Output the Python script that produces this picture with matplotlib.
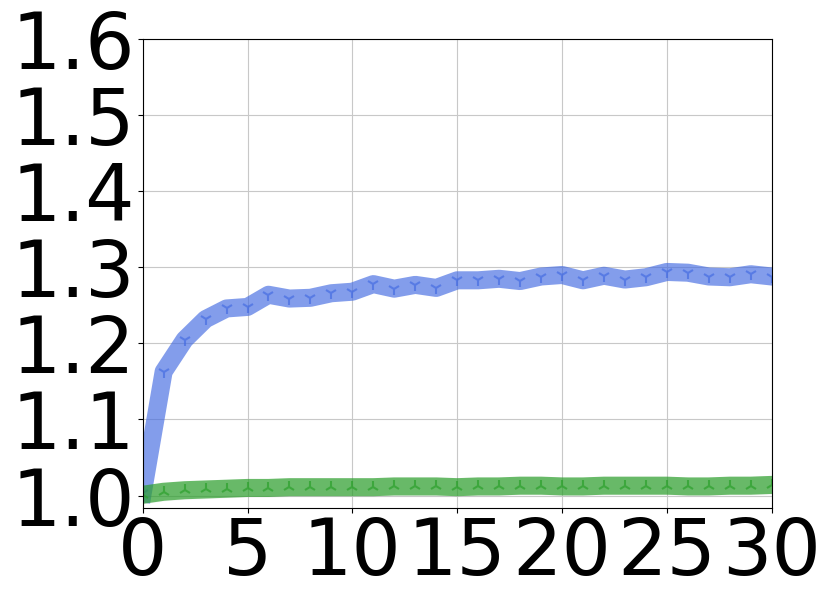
import numpy as np
import matplotlib
matplotlib.use("Agg")
import matplotlib.pyplot as plt

steps = list(range(31))

blue_vals = [1.003, 1.163, 1.205, 1.232, 1.246, 1.248, 1.264, 1.259, 1.260, 1.266,
             1.268, 1.278, 1.272, 1.277, 1.273, 1.283, 1.283, 1.285, 1.282, 1.288,
             1.290, 1.283, 1.289, 1.284, 1.287, 1.294, 1.293, 1.288, 1.287, 1.291,
             1.288]

green_vals = [1.001, 1.005, 1.007, 1.008, 1.009, 1.010, 1.010, 1.011, 1.011, 1.011,
              1.011, 1.011, 1.012, 1.012, 1.012, 1.011, 1.012, 1.012, 1.013, 1.013,
              1.012, 1.012, 1.013, 1.013, 1.013, 1.013, 1.012, 1.012, 1.013, 1.013,
              1.014]

green_spread = [0.012] * 31

xticks = [0, 5, 10, 15, 20, 25, 30]
yticks = [1.0, 1.1, 1.2, 1.3, 1.4, 1.5, 1.6]

fig = plt.figure(figsize=(8.31, 6.03), dpi=100)
ax = fig.add_axes([0.1717, 0.158, 0.757, 0.777])

g = np.array(green_vals)
s = np.array(green_spread)
ax.fill_between(steps, g - s, g + s, color="gray", alpha=0.08, lw=0)

ax.plot(steps, blue_vals, color="royalblue", alpha=0.65, lw=13,
        marker="1", markersize=9, markeredgewidth=1.5)
ax.plot(steps, green_vals, color="tab:green", alpha=0.7, lw=13,
        marker="2", markersize=9, markeredgewidth=1.5)

ax.set_xlim(0, 30)
ax.set_ylim(0.984, 1.6)
ax.set_xticks(xticks)
ax.set_yticks(yticks)
ax.set_xticklabels([str(t) for t in xticks])
ax.set_yticklabels(["%.1f" % t for t in yticks])
ax.tick_params(labelsize=56, pad=2)
ax.grid(True, color="#c8c8c8", lw=0.8)
ax.set_axisbelow(True)

plt.savefig("out.png", dpi=100)
